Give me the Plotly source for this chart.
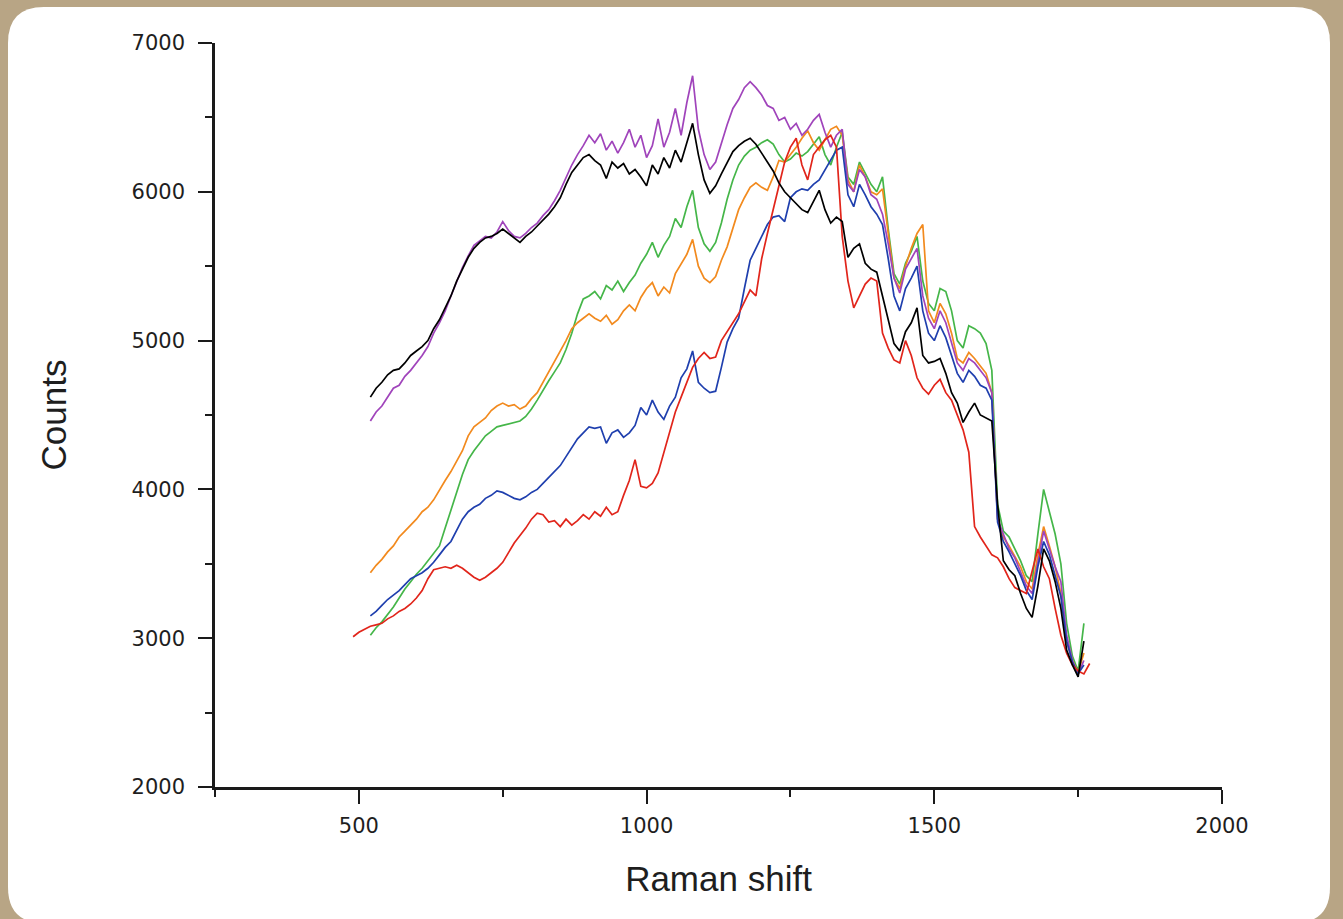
import plotly.graph_objects as go

# Raman shift grid (cm-1), one reading every 10 units
raman_shift = list(range(490, 1780, 10))

black = [None] * 3 + [
    4620, 4680, 4720, 4770, 4800, 4810, 4850, 4900, 4930, 4960,
    5000, 5080, 5140, 5220, 5300, 5400, 5480, 5560, 5620, 5660,
    5690, 5700, 5720, 5750, 5720, 5690, 5660, 5700, 5730, 5770,
    5810, 5850, 5900, 5960, 6050, 6130, 6180, 6230, 6250, 6210,
    6180, 6090, 6200, 6160, 6190, 6120, 6150, 6100, 6040, 6180,
    6120, 6230, 6160, 6280, 6200, 6330, 6460, 6250, 6080, 5990,
    6040, 6120, 6200, 6270, 6310, 6340, 6360, 6320, 6260, 6200,
    6140, 6060, 6000, 5960, 5920, 5880, 5860, 5930, 6010, 5880,
    5790, 5830, 5800, 5560, 5620, 5650, 5520, 5480, 5460, 5300,
    5150, 4980, 4930, 5060, 5120, 5220, 4900, 4850, 4860, 4880,
    4780, 4650, 4580, 4450, 4520, 4580, 4500, 4480, 4460, 3900,
    3520, 3460, 3420, 3300, 3200, 3140, 3350, 3600, 3520, 3380,
    3200, 2920, 2820, 2740, 2980,
] + [None]

purple = [None] * 3 + [
    4460, 4520, 4560, 4620, 4680, 4700, 4760, 4800, 4850, 4900,
    4960, 5050, 5120, 5200, 5300, 5400, 5490, 5570, 5640, 5670,
    5700, 5690, 5730, 5800, 5740, 5700, 5690, 5720, 5760, 5790,
    5840, 5880, 5940, 6010, 6100, 6180, 6250, 6310, 6380, 6330,
    6390, 6280, 6340, 6260, 6330, 6420, 6300, 6380, 6230, 6310,
    6490, 6300, 6400, 6560, 6380, 6600, 6780, 6420, 6250, 6150,
    6200, 6330, 6450, 6560, 6620, 6700, 6740, 6700, 6650, 6580,
    6560, 6480, 6500, 6420, 6460, 6380, 6420, 6480, 6520, 6400,
    6300, 6380, 6420, 6050, 6000, 6150, 6100, 5980, 5950, 5850,
    5650, 5420, 5320, 5480, 5550, 5620, 5300, 5150, 5080, 5200,
    5120, 4980, 4850, 4800, 4880, 4850, 4800, 4750, 4650, 3800,
    3700, 3600, 3540, 3450, 3350, 3300, 3500, 3720, 3600, 3480,
    3380, 3020, 2850, 2760, 2850,
] + [None]

green = [None] * 3 + [
    3020, 3070, 3110, 3160, 3210, 3270, 3330, 3380, 3430, 3470,
    3520, 3570, 3620, 3740, 3860, 3970, 4100, 4200, 4260, 4310,
    4360, 4390, 4420, 4430, 4440, 4450, 4460, 4490, 4540, 4600,
    4670, 4730, 4790, 4850, 4940, 5050, 5180, 5280, 5300, 5330,
    5280, 5370, 5340, 5400, 5330, 5390, 5440, 5520, 5580, 5660,
    5560, 5640, 5700, 5820, 5760, 5900, 6010, 5760, 5650, 5600,
    5660, 5790, 5950, 6080, 6180, 6240, 6280, 6300, 6330, 6350,
    6320, 6250, 6200, 6220, 6260, 6240, 6270, 6320, 6370, 6250,
    6180, 6300, 6400, 6100, 6050, 6200, 6120, 6050, 6000, 6100,
    5750, 5450, 5380, 5520, 5600, 5700, 5400, 5250, 5200, 5350,
    5330, 5200, 5000, 4950, 5100, 5080, 5050, 4980, 4800, 3900,
    3720, 3680, 3600, 3520, 3420, 3380, 3700, 4000, 3850, 3700,
    3500, 3100, 2880, 2780, 3100,
] + [None]

orange = [None] * 3 + [
    3440, 3490, 3530, 3580, 3620, 3680, 3720, 3760, 3800, 3850,
    3880, 3930, 4000, 4060, 4120, 4190, 4260, 4360, 4420, 4450,
    4480, 4530, 4560, 4580, 4560, 4570, 4540, 4560, 4610, 4650,
    4720, 4790, 4860, 4920, 5000, 5080, 5120, 5150, 5180, 5150,
    5130, 5170, 5110, 5140, 5200, 5240, 5200, 5290, 5350, 5390,
    5300, 5360, 5320, 5450, 5520, 5580, 5680, 5500, 5420, 5390,
    5430, 5540, 5630, 5760, 5880, 5960, 6030, 6060, 6030, 6010,
    6100, 6210, 6200, 6250, 6300, 6360, 6410, 6330, 6280, 6350,
    6420, 6440, 6380, 6080, 6000, 6180, 6100, 6000, 5980, 6020,
    5700, 5420, 5350, 5500, 5620, 5720, 5780, 5200, 5120, 5250,
    5180, 5050, 4880, 4850, 4920, 4880, 4830, 4780, 4650, 3800,
    3680, 3620, 3550, 3480, 3380, 3330, 3560, 3750, 3620, 3480,
    3300, 2980, 2850, 2770, 2900,
] + [None]

blue = [None] * 3 + [
    3150, 3180, 3220, 3260, 3290, 3320, 3360, 3400, 3420, 3440,
    3470, 3510, 3560, 3610, 3650, 3720, 3800, 3850, 3880, 3900,
    3940, 3960, 3990, 3980, 3960, 3940, 3930, 3950, 3980, 4000,
    4040, 4080, 4120, 4160, 4220, 4280, 4340, 4380, 4420, 4410,
    4420, 4310, 4380, 4400, 4350, 4380, 4430, 4550, 4500, 4600,
    4520, 4470, 4560, 4620, 4750, 4810, 4930, 4720, 4680, 4650,
    4660, 4820, 4990, 5080, 5150, 5350, 5540, 5620, 5700, 5780,
    5830, 5840, 5800, 5960, 6000, 6020, 6010, 6050, 6080, 6150,
    6220, 6280, 6300, 5980, 5900, 6050, 5980, 5900, 5850, 5780,
    5550, 5300, 5200, 5350, 5420, 5500, 5200, 5050, 5000, 5100,
    5020, 4900, 4780, 4720, 4800, 4760, 4700, 4680, 4600, 3780,
    3650, 3580, 3500, 3420, 3320, 3260, 3480, 3650, 3560, 3420,
    3280, 2980, 2840, 2760, 2820,
] + [None]

red = [
    3010, 3040, 3060, 3080, 3090, 3100, 3130, 3150, 3180, 3200,
    3230, 3270, 3320, 3400, 3460, 3470, 3480, 3470, 3490, 3470,
    3440, 3410, 3390, 3410, 3440, 3470, 3510, 3580, 3640, 3690,
    3740, 3800, 3840, 3830, 3780, 3790, 3750, 3800, 3760, 3790,
    3830, 3800, 3850, 3820, 3880, 3830, 3850, 3960, 4060, 4200,
    4020, 4010, 4040, 4110, 4250, 4380, 4520, 4620, 4720, 4820,
    4880, 4920, 4880, 4890, 5000, 5060, 5120, 5180, 5260, 5340,
    5300, 5550, 5720, 5880, 6020, 6200, 6300, 6360, 6180, 6080,
    6250, 6300, 6350, 6380, 6300, 5700, 5400, 5220, 5300, 5380,
    5420, 5400, 5050, 4950, 4870, 4850, 5000, 4900, 4750, 4680,
    4640, 4700, 4740, 4650, 4600, 4500, 4400, 4250, 3750, 3680,
    3620, 3560, 3540, 3480, 3400, 3340, 3320, 3300, 3450, 3600,
    3480, 3400, 3200, 3020, 2900, 2820, 2780, 2760, 2830,
]

series = [
    ("green", green, "#45b649"),
    ("orange", orange, "#f28a1e"),
    ("purple", purple, "#a044bb"),
    ("blue", blue, "#1f3fae"),
    ("red", red, "#e1251b"),
    ("black", black, "#000000"),
]

# pixel frame of the plot area
W, H = 1343, 919
L, R, T, B = 215, 1222, 43, 787


def to_paper(px, py):
    return (px - L) / (R - L), (B - py) / (B - T)


# white rounded card on the tan background
x0, y0, x1, y1, rad = 8, 7, 1330, 923, 36
pts = [
    ("M", x0 + rad, y0), ("L", x1 - rad, y0), ("Q", x1, y0, x1, y0 + rad),
    ("L", x1, y1 - rad), ("Q", x1, y1, x1 - rad, y1),
    ("L", x0 + rad, y1), ("Q", x0, y1, x0, y1 - rad),
    ("L", x0, y0 + rad), ("Q", x0, y0, x0 + rad, y0),
]
path = ""
for p in pts:
    cmd = p[0]
    coords = p[1:]
    segs = []
    for i in range(0, len(coords), 2):
        a, b = to_paper(coords[i], coords[i + 1])
        segs.append(f"{a:.5f},{b:.5f}")
    path += cmd + " ".join(segs) + " "
path += "Z"

fig = go.Figure()
for name, vals, col in series:
    fig.add_trace(go.Scatter(
        x=raman_shift, y=vals, mode="lines", name=name,
        line=dict(color=col, width=1.7),
        connectgaps=False, showlegend=False,
    ))

fig.add_shape(type="path", path=path, xref="paper", yref="paper",
              fillcolor="white", line=dict(width=0), layer="below")

tick_font = dict(family="DejaVu Sans, sans-serif", size=21, color="#1e1e1e")
title_font = dict(family="Arial, Liberation Sans, sans-serif", size=35, color="#1e1e1e")

fig.update_layout(
    width=W, height=H,
    margin=dict(l=L, r=W - R, t=T, b=H - B, pad=0),
    paper_bgcolor="#b8a585",
    plot_bgcolor="rgba(0,0,0,0)",
    xaxis=dict(
        range=[250, 2000], tickvals=[500, 1000, 1500, 2000],
        ticks="outside", ticklen=14, tickwidth=2, tickcolor="#1a1a1a",
        showline=True, linecolor="#1a1a1a", linewidth=2.5,
        showgrid=False, zeroline=False, tickfont=tick_font,
        ticklabelstandoff=4,
        minor=dict(tickvals=[250, 750, 1250, 1750], ticks="outside",
                   ticklen=7, tickwidth=2, tickcolor="#1a1a1a"),
        title=dict(text="Raman shift", standoff=30, font=title_font),
    ),
    yaxis=dict(
        range=[2000, 7000], tickvals=[2000, 3000, 4000, 5000, 6000, 7000],
        ticks="outside", ticklen=14, tickwidth=2, tickcolor="#1a1a1a",
        showline=True, linecolor="#1a1a1a", linewidth=2.5,
        showgrid=False, zeroline=False, tickfont=tick_font,
        ticklabelstandoff=9,
        minor=dict(tickvals=[2500, 3500, 4500, 5500, 6500], ticks="outside",
                   ticklen=7, tickwidth=2, tickcolor="#1a1a1a"),
        title=dict(text="Counts", standoff=55, font=title_font),
    ),
)

# drop the page's default body margin so the figure sits at the window origin
fig.write_html("out.html", config={"displayModeBar": False},
               post_script="document.body.style.margin = '0';")
